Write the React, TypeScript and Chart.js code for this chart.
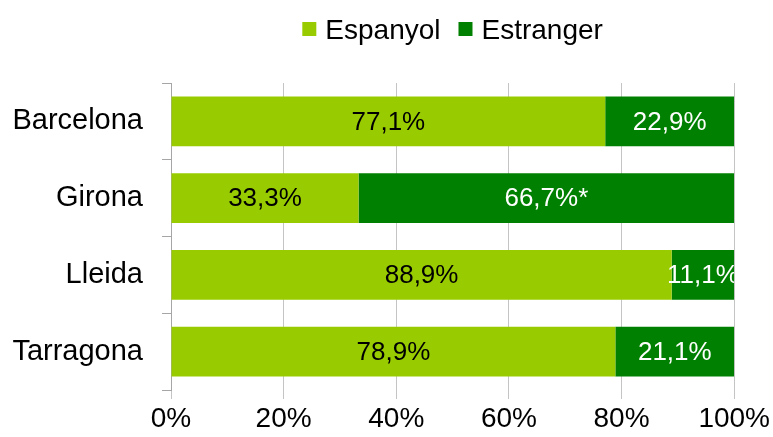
import React, { useEffect, useRef } from "react";
import { Chart, registerables } from "chart.js";

Chart.register(...registerables);

const categories = ["Barcelona", "Girona", "Lleida", "Tarragona"];
const espanyol = [77.1, 33.3, 88.9, 78.9];
const estranger = [22.9, 66.7, 11.1, 21.1];
const espanyolLabels = ["77,1%", "33,3%", "88,9%", "78,9%"];
const estrangerLabels = ["22,9%", "66,7%*", "11,1%", "21,1%"];
const seriesNames = ["Espanyol", "Estranger"];
const xTicks = [0, 20, 40, 60, 80, 100];

const LIGHT = "#99CC00";
const DARK = "#008000";
const FONT = "'Liberation Sans', Arial, sans-serif";

const labelPlugin = {
  id: "barLabels",
  afterDatasetsDraw(chart: any) {
    const ctx = chart.ctx;
    const area = chart.chartArea;
    ctx.save();
    ctx.beginPath();
    ctx.rect(area.left, area.top, area.right - area.left, area.bottom - area.top);
    ctx.clip();
    ctx.font = `26px ${FONT}`;
    ctx.textAlign = "center";
    ctx.textBaseline = "middle";
    const sets = [
      { labels: espanyolLabels, color: "#000000" },
      { labels: estrangerLabels, color: "#ffffff" },
    ];
    sets.forEach((s, di) => {
      const meta = chart.getDatasetMeta(di);
      meta.data.forEach((bar: any, i: number) => {
        const p = bar.getProps(["x", "y", "base"], true);
        const cx = (p.x + p.base) / 2;
        ctx.fillStyle = s.color;
        ctx.fillText(s.labels[i], cx, p.y + 1);
      });
    });
    ctx.restore();
  },
};

const legendPlugin = {
  id: "customLegend",
  afterDraw(chart: any) {
    const ctx = chart.ctx;
    const area = chart.chartArea;
    ctx.save();
    ctx.font = `28px ${FONT}`;
    const box = 14;
    const gap = 9;
    const itemGap = 18;
    const colors = [LIGHT, DARK];
    const widths = seriesNames.map((n) => ctx.measureText(n).width);
    let total = 0;
    widths.forEach((w, i) => {
      total += box + gap + w + (i < widths.length - 1 ? itemGap : 0);
    });
    let x = (area.left + area.right) / 2 - total / 2;
    const boxTop = 22;
    const baseline = 39;
    ctx.textAlign = "left";
    ctx.textBaseline = "alphabetic";
    seriesNames.forEach((n, i) => {
      ctx.fillStyle = colors[i];
      ctx.fillRect(x, boxTop, box, box);
      x += box + gap;
      ctx.fillStyle = "#000000";
      ctx.fillText(n, x, baseline);
      x += widths[i] + itemGap;
    });
    ctx.restore();
  },
};

export default function App() {
  const ref = useRef<HTMLCanvasElement | null>(null);

  useEffect(() => {
    if (!ref.current) return;
    const chart = new Chart(ref.current, {
      type: "bar",
      data: {
        labels: categories,
        datasets: [
          {
            label: seriesNames[0],
            data: espanyol,
            backgroundColor: LIGHT,
            borderWidth: 0,
            barPercentage: 0.65,
            categoryPercentage: 1,
          },
          {
            label: seriesNames[1],
            data: estranger,
            backgroundColor: DARK,
            borderWidth: 0,
            barPercentage: 0.65,
            categoryPercentage: 1,
          },
        ],
      },
      options: {
        indexAxis: "y",
        responsive: false,
        animation: false,
        devicePixelRatio: 1,
        layout: { padding: { top: 83, right: 38, left: 0, bottom: 0 } },
        plugins: {
          legend: { display: false },
          tooltip: { enabled: false },
        },
        scales: {
          x: {
            stacked: true,
            min: 0,
            max: 100,
            afterBuildTicks: (scale: any) => {
              scale.ticks = xTicks.map((v) => ({ value: v }));
            },
            afterFit: (scale: any) => {
              scale.height = 47;
            },
            ticks: {
              padding: 3,
              color: "#000000",
              font: { family: FONT, size: 28 },
              callback: (v: any) => `${v}%`,
              maxRotation: 0,
            },
            grid: {
              color: "#c4c4c4",
              tickLength: 9,
              drawTicks: true,
            },
            border: { display: false },
          },
          y: {
            stacked: true,
            afterFit: (scale: any) => {
              scale.width = 171;
            },
            ticks: {
              padding: 19,
              color: "#000000",
              font: { family: FONT, size: 29 },
            },
            grid: {
              drawOnChartArea: false,
              drawTicks: true,
              tickLength: 9,
              color: "#a6a6a6",
              offset: true,
            },
            border: { display: true, color: "#a6a6a6" },
          },
        },
      },
      plugins: [labelPlugin, legendPlugin],
    });
    return () => chart.destroy();
  }, []);

  return (
    <div style={{ position: "absolute", left: 0, top: 0, width: 773, height: 437, background: "#ffffff" }}>
      <canvas ref={ref} width={773} height={437} style={{ width: 773, height: 437, display: "block" }} />
    </div>
  );
}
